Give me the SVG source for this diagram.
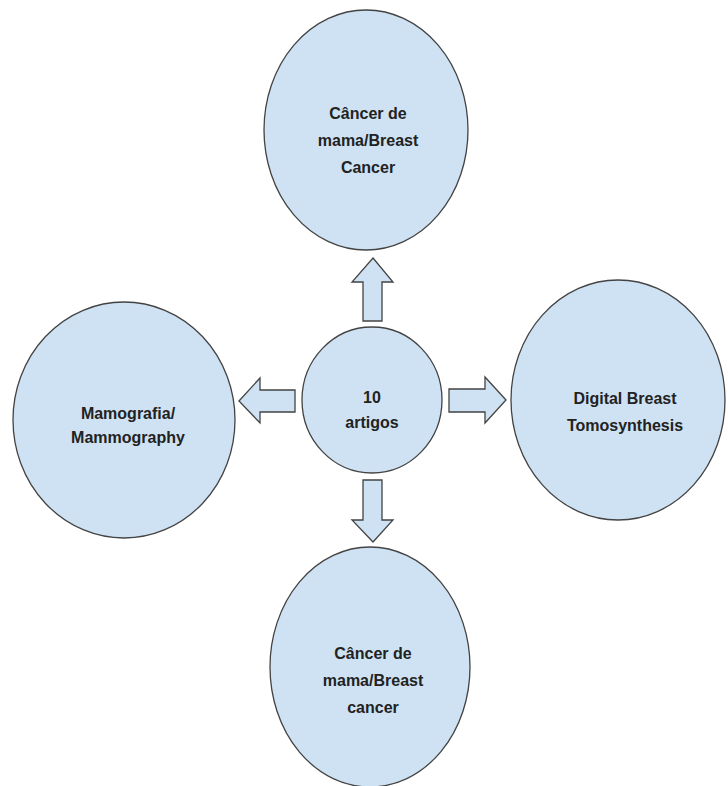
<svg xmlns="http://www.w3.org/2000/svg" width="728" height="786" viewBox="0 0 728 786">
<style>
.n{fill:#cfe2f3;stroke:#434343;stroke-width:1.3}
.a{fill:#cfe2f3;stroke:#434343;stroke-width:1.3;stroke-linejoin:miter}
.t{font-family:"Liberation Sans",Arial,sans-serif;font-weight:bold;font-size:16px;fill:#222;text-anchor:middle}
</style>
<rect width="728" height="786" fill="#fff"/>
<g id="top">
<ellipse class="n" cx="366" cy="130" rx="102" ry="120"/>
<text class="t" x="368" y="119">Câncer de</text>
<text class="t" x="368" y="146">mama/Breast</text>
<text class="t" x="368" y="173">Cancer</text>
</g>
<g id="center">
<ellipse class="n" cx="372" cy="400" rx="70" ry="73"/>
<text class="t" x="372" y="403">10</text>
<text class="t" x="372" y="428">artigos</text>
</g>
<g id="left">
<ellipse class="n" cx="124" cy="420" rx="111" ry="118"/>
<text class="t" x="128" y="419">Mamografia/</text>
<text class="t" x="128" y="443">Mammography</text>
</g>
<g id="right">
<ellipse class="n" cx="618" cy="400" rx="107" ry="120"/>
<text class="t" x="625" y="404">Digital Breast</text>
<text class="t" x="625" y="431">Tomosynthesis</text>
</g>
<g id="bottom">
<ellipse class="n" cx="370" cy="667" rx="100" ry="120"/>
<text class="t" x="373" y="659">Câncer de</text>
<text class="t" x="373" y="686">mama/Breast</text>
<text class="t" x="373" y="713">cancer</text>
</g>
<g id="connectors">
<polygon class="a" points="373,258 393,282 382,282 382,321 363,321 363,282 352,282"/>
<polygon class="a" points="239,401 260,378 260,390 295,390 295,412 260,412 260,423"/>
<polygon class="a" points="506,400 485,377 485,389 449,389 449,412 485,412 485,423"/>
<polygon class="a" points="373,542 393,520 382,520 382,480 363,480 363,520 352,520"/>
</g>
</svg>
